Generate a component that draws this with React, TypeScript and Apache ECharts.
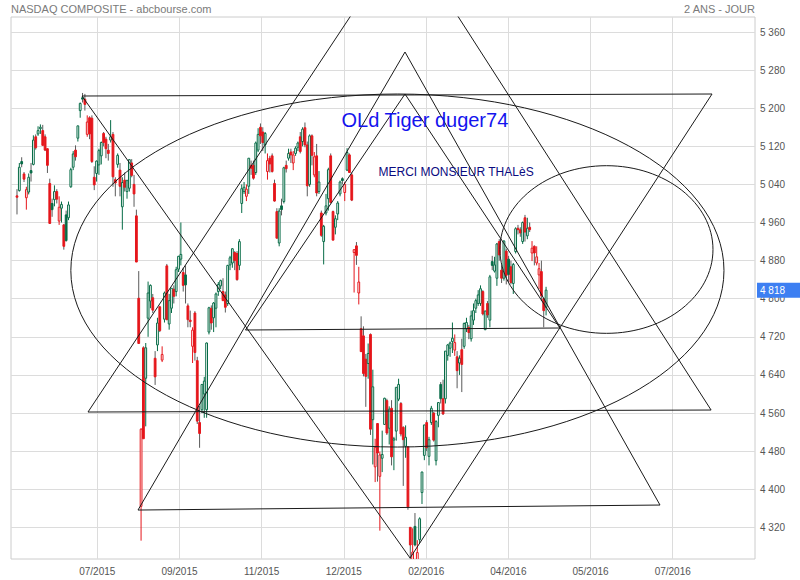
import React, { useEffect, useRef } from "react";
import * as echarts from "echarts";

// Trading days (NASDAQ Composite), index 0 = first candle
const tradingDays = [
  "2015-06-09","2015-06-10","2015-06-11","2015-06-12","2015-06-15","2015-06-16","2015-06-17","2015-06-18","2015-06-19","2015-06-22",
  "2015-06-23","2015-06-24","2015-06-25","2015-06-26","2015-06-29","2015-06-30","2015-07-01","2015-07-02","2015-07-06","2015-07-07",
  "2015-07-08","2015-07-09","2015-07-10","2015-07-13","2015-07-14","2015-07-15","2015-07-16","2015-07-17","2015-07-20","2015-07-21",
  "2015-07-22","2015-07-23","2015-07-24","2015-07-27","2015-07-28","2015-07-29","2015-07-30","2015-07-31","2015-08-03","2015-08-04",
  "2015-08-05","2015-08-06","2015-08-07","2015-08-10","2015-08-11","2015-08-12","2015-08-13","2015-08-14","2015-08-17","2015-08-18",
  "2015-08-19","2015-08-20","2015-08-21","2015-08-24","2015-08-25","2015-08-26","2015-08-27","2015-08-28","2015-08-31","2015-09-01",
  "2015-09-02","2015-09-03","2015-09-04","2015-09-08","2015-09-09","2015-09-10","2015-09-11","2015-09-14","2015-09-15","2015-09-16",
  "2015-09-17","2015-09-18","2015-09-21","2015-09-22","2015-09-23","2015-09-24","2015-09-25","2015-09-28","2015-09-29","2015-09-30",
  "2015-10-01","2015-10-02","2015-10-05","2015-10-06","2015-10-07","2015-10-08","2015-10-09","2015-10-12","2015-10-13","2015-10-14",
  "2015-10-15","2015-10-16","2015-10-19","2015-10-20","2015-10-21","2015-10-22","2015-10-23","2015-10-26","2015-10-27","2015-10-28",
  "2015-10-29","2015-10-30","2015-11-02","2015-11-03","2015-11-04","2015-11-05","2015-11-06","2015-11-09","2015-11-10","2015-11-11",
  "2015-11-12","2015-11-13","2015-11-16","2015-11-17","2015-11-18","2015-11-19","2015-11-20","2015-11-23","2015-11-24","2015-11-25",
  "2015-11-27","2015-11-30","2015-12-01","2015-12-02","2015-12-03","2015-12-04","2015-12-07","2015-12-08","2015-12-09","2015-12-10",
  "2015-12-11","2015-12-14","2015-12-15","2015-12-16","2015-12-17","2015-12-18","2015-12-21","2015-12-22","2015-12-23","2015-12-24",
  "2015-12-28","2015-12-29","2015-12-30","2015-12-31","2016-01-04","2016-01-05","2016-01-06","2016-01-07","2016-01-08","2016-01-11",
  "2016-01-12","2016-01-13","2016-01-14","2016-01-15","2016-01-19","2016-01-20","2016-01-21","2016-01-22","2016-01-25","2016-01-26",
  "2016-01-27","2016-01-28","2016-01-29","2016-02-01","2016-02-02","2016-02-03","2016-02-04","2016-02-05","2016-02-08","2016-02-09",
  "2016-02-10","2016-02-11","2016-02-12","2016-02-16","2016-02-17","2016-02-18","2016-02-19","2016-02-22","2016-02-23","2016-02-24",
  "2016-02-25","2016-02-26","2016-02-29","2016-03-01","2016-03-02","2016-03-03","2016-03-04","2016-03-07","2016-03-08","2016-03-09",
  "2016-03-10","2016-03-11","2016-03-14","2016-03-15","2016-03-16","2016-03-17","2016-03-18","2016-03-21","2016-03-22","2016-03-23",
  "2016-03-24","2016-03-28","2016-03-29","2016-03-30","2016-03-31","2016-04-01","2016-04-04","2016-04-05","2016-04-06","2016-04-07",
  "2016-04-08","2016-04-11","2016-04-12","2016-04-13","2016-04-14","2016-04-15","2016-04-18","2016-04-19","2016-04-20","2016-04-21",
  "2016-04-22","2016-04-25","2016-04-26","2016-04-27","2016-04-28","2016-04-29","2016-05-02",
];

const opens = [
  5016,5027,5088,5062,5012,5024,5069,5082,5140,5146,
  5157,5153,5140,5115,5042,5000,5008,5025,4963,4990,
  4955,4976,4970,5035,5076,5112,5137,5195,5222,5219,
  5145,5180,5179,5055,5063,5081,5100,5147,5135,5112,
  5133,5145,5050,5082,5070,4993,5049,5025,5032,5085,
  5040,4974,4801,4364,4697,4633,4759,4795,4802,4675,
  4703,4783,4671,4757,4869,4747,4780,4820,4815,4862,
  4883,4855,4850,4785,4755,4700,4770,4670,4540,4567,
  4600,4567,4730,4780,4760,4780,4815,4827,4815,4808,
  4790,4871,4875,4897,4895,4870,5000,5025,5015,5036,
  5080,5080,5065,5112,5160,5150,5123,5067,5095,5100,
  5042,4983,4917,4995,5004,5080,5095,5108,5085,5105,
  5118,5140,5130,5159,5123,5040,5142,5060,5100,5025,
  4980,4920,4980,5010,5100,4983,4950,4978,5020,5052,
  5023,5070,5102,5060,4897,4911,4812,4737,4722,4673,
  4664,4725,4546,4447,4538,4427,4465,4536,4586,4528,
  4570,4503,4522,4589,4580,4530,4490,4489,4320,4230,
  4322,4217,4294,4393,4471,4540,4469,4540,4560,4460,
  4555,4620,4590,4590,4681,4696,4710,4692,4678,4665,
  4693,4700,4737,4740,4716,4755,4780,4790,4790,4815,
  4735,4790,4755,4878,4858,4843,4920,4860,4843,4900,
  4883,4867,4832,4899,4948,4945,4920,4970,4932,4950,
  4896,4910,4875,4850,4857,4800,4782,
];

const highs = [
  5030,5085,5097,5066,5035,5063,5085,5143,5145,5162,
  5166,5165,5145,5116,5052,5010,5038,5030,5015,5004,
  4957,4985,5004,5075,5110,5122,5163,5212,5232,5230,
  5185,5183,5185,5078,5090,5115,5130,5150,5140,5125,
  5175,5150,5055,5105,5085,5055,5065,5050,5093,5093,
  5060,4987,4858,4528,4700,4707,4836,4830,4810,4690,
  4760,4785,4700,4815,4873,4810,4822,4828,4867,4890,
  4960,4865,4870,4790,4775,4740,4774,4678,4575,4621,
  4636,4708,4783,4786,4793,4813,4835,4840,4843,4815,
  4871,4890,4906,4900,4900,4925,5040,5045,5040,5095,
  5090,5090,5130,5158,5168,5160,5150,5105,5100,5105,
  5050,4990,4990,5010,5077,5090,5115,5115,5110,5120,
  5130,5150,5160,5170,5130,5145,5145,5108,5125,5068,
  4985,4955,5020,5075,5105,4985,4975,5005,5048,5055,
  5045,5116,5105,5065,4904,4919,4867,4763,4742,4684,
  4706,4727,4651,4506,4539,4479,4523,4592,4590,4574,
  4587,4510,4614,4632,4583,4532,4534,4490,4320,4318,
  4350,4293,4341,4437,4535,4545,4510,4575,4562,4545,
  4582,4625,4630,4690,4705,4710,4750,4725,4690,4681,
  4716,4750,4760,4745,4775,4790,4800,4818,4828,4818,
  4775,4795,4850,4890,4888,4917,4925,4870,4923,4905,
  4890,4880,4875,4950,4955,4950,4962,4976,4970,4960,
  4921,4912,4910,4875,4880,4802,4825,
];

const lows = [
  4977,5025,5076,5045,4987,5019,5046,5080,5113,5142,
  5146,5121,5110,5064,4957,4972,4994,5000,4955,4960,
  4903,4920,4965,5033,5070,5090,5130,5180,5212,5195,
  5140,5135,5085,5028,5046,5060,5082,5120,5095,5090,
  5128,5035,5015,5075,5015,4945,5025,5010,5025,5055,
  4993,4877,4706,4292,4506,4532,4720,4780,4770,4619,
  4690,4730,4667,4750,4755,4735,4770,4790,4805,4856,
  4870,4815,4790,4740,4740,4665,4670,4537,4487,4560,
  4550,4550,4725,4735,4730,4740,4806,4820,4795,4771,
  4785,4860,4865,4860,4838,4860,4980,5020,5005,5020,
  5060,5050,5060,5108,5125,5110,5105,5050,5065,5065,
  5004,4927,4910,4975,5000,5065,5090,5085,5070,5100,
  5110,5105,5120,5118,5015,5035,5080,5055,5015,5020,
  4930,4872,4975,4985,5000,4923,4935,4965,5015,5040,
  5005,5068,5064,5005,4813,4871,4788,4688,4637,4573,
  4632,4514,4452,4415,4416,4313,4436,4535,4514,4494,
  4450,4440,4502,4585,4511,4407,4466,4357,4213,4209,
  4280,4210,4287,4369,4461,4480,4450,4535,4500,4450,
  4530,4580,4556,4580,4670,4678,4686,4680,4612,4640,
  4604,4695,4730,4715,4710,4745,4770,4785,4785,4765,
  4734,4760,4740,4860,4855,4827,4880,4833,4838,4830,
  4835,4830,4810,4895,4935,4930,4915,4920,4925,4940,
  4879,4870,4870,4820,4795,4740,4765,
];

const closes = [
  5013,5076,5083,5051,5029,5055,5064,5133,5117,5153,
  5160,5122,5112,5080,4958,4987,5025,5009,4992,4998,
  4910,4922,4997,5071,5104,5098,5163,5210,5219,5208,
  5171,5146,5088,5039,5089,5111,5128,5128,5115,5105,
  5140,5056,5043,5101,5036,5044,5034,5048,5092,5059,
  5020,4877,4706,4526,4506,4697,4812,4828,4776,4636,
  4749,4733,4683,4812,4756,4796,4822,4805,4861,4889,
  4893,4828,4829,4756,4752,4734,4687,4543,4517,4620,
  4627,4707,4781,4749,4791,4810,4830,4838,4796,4782,
  4870,4886,4905,4880,4840,4920,5031,5034,5030,5095,
  5074,5053,5127,5145,5142,5128,5147,5090,5083,5067,
  5005,4927,4984,4987,5075,5073,5105,5102,5102,5116,
  5127,5109,5156,5123,5037,5142,5101,5098,5022,5045,
  4933,4952,4995,5071,5002,4923,4968,5001,5045,5048,
  5040,5107,5065,5007,4903,4891,4835,4689,4643,4637,
  4685,4526,4615,4488,4476,4472,4473,4591,4518,4568,
  4468,4506,4614,4620,4516,4504,4509,4363,4283,4268,
  4283,4267,4338,4436,4535,4487,4504,4570,4503,4542,
  4582,4590,4558,4690,4703,4707,4717,4708,4649,4675,
  4662,4748,4750,4729,4764,4775,4796,4808,4821,4768,
  4774,4766,4846,4870,4871,4915,4892,4843,4921,4849,
  4851,4834,4872,4947,4945,4938,4960,4940,4948,4945,
  4906,4896,4888,4863,4806,4775,4818,
];

// Axes (x in trading-day index units)
const xRange = [-2.56, 315.25];
const yRange = [4253.5, 5391.5];
const priceTicks = [4320, 4400, 4480, 4560, 4640, 4720, 4800, 4880, 4960, 5040, 5120, 5200, 5280, 5360];
const timeTickPos = [34.3, 69.4, 104.5, 139.6, 174.8, 209.9, 245.0, 280.1];
const timeTickLabels = ["07/2015", "09/2015", "11/2015", "12/2015", "02/2016", "04/2016", "05/2016", "07/2016"];

// Hand-drawn figures, as [trading-day index, price]
const bigTriangleDown = [[27.77, 5225.6], [296.9, 5229.8], [167.9, 4255.6], [27.77, 5225.6]];
const triangleUp = [[51.69, 4356.3], [165.74, 5318.0], [274.67, 4366.8], [51.69, 4356.3]];
const lowTriangleDown = [[30.33, 4562.1], [296.5, 4566.3], [165.74, 5565.8], [30.33, 4562.1]];
const innerTriangle = [[97.6, 4734.3], [165.74, 5229.8], [231.9, 4738.5], [97.6, 4734.3]];
const bigEllipse = { cx: 162.5, cy: 4859.2, rx: 139.5, ry: 370.6 };
const smallEllipse = { cx: 251.8, cy: 4903.3, rx: 45.5, ry: 176.0 };

const FONT = "'Liberation Sans', Arial, Helvetica, sans-serif";
const GREEN = "#066b46";
const RED = "#e5161b";
const WICK = "#5a5a5a";
const DRAW = "#1a1a1a";

const fmtPrice = (v: number) => String(Math.round(v)).replace(/\B(?=(\d{3})+(?!\d))/g, " ");

export default function App() {
  const ref = useRef<HTMLDivElement>(null);

  useEffect(() => {
    if (!ref.current) return;
    const chart = echarts.init(ref.current, null, { renderer: "svg", width: 800, height: 580 });

    const candleData = opens.map((o, i) => [i, o, closes[i], lows[i], highs[i], i > 0 ? closes[i - 1] : o]);

    const figureSeries = [bigTriangleDown, triangleUp, lowTriangleDown, innerTriangle].map((pts) => ({
      type: "line",
      data: pts,
      symbol: "none",
      silent: true,
      clip: true,
      z: 5,
      lineStyle: { color: DRAW, width: 1 },
    }));

    const option: any = {
      animation: false,
      textStyle: { fontFamily: FONT },
      grid: {
        left: 11, right: 45, top: 17, bottom: 21,
        show: true, borderColor: "#cccccc", borderWidth: 1,
        containLabel: false, outerBoundsMode: "none",
      },
      xAxis: {
        type: "value",
        min: xRange[0], max: xRange[1],
        axisLine: { show: false },
        axisTick: { show: false, customValues: timeTickPos },
        axisLabel: {
          customValues: timeTickPos,
          color: "#555", fontSize: 10, margin: 7, fontFamily: FONT,
          formatter: (v: number) => {
            let best = 0;
            timeTickPos.forEach((p, k) => { if (Math.abs(p - v) < Math.abs(timeTickPos[best] - v)) best = k; });
            return timeTickLabels[best];
          },
        },
        splitLine: { show: true, lineStyle: { color: "#dcdcdc", width: 1 } },
      },
      yAxis: {
        type: "value",
        position: "right",
        min: yRange[0], max: yRange[1],
        axisLine: { show: false },
        axisTick: { show: false, customValues: priceTicks },
        axisLabel: {
          customValues: priceTicks,
          color: "#555", fontSize: 10, margin: 5, fontFamily: FONT,
          formatter: (v: number) => fmtPrice(v),
        },
        splitLine: { show: true, lineStyle: { color: "#dcdcdc", width: 1 } },
      },
      series: [
        {
          type: "custom",
          data: candleData,
          clip: true,
          silent: true,
          z: 2,
          encode: { x: 0, y: [1, 2, 3, 4] },
          renderItem: (params: any, api: any) => {
            const i = api.value(0);
            const o = api.value(1);
            const c = api.value(2);
            const l = api.value(3);
            const h = api.value(4);
            const prev = api.value(5);
            const rising = c > prev;
            const hollow = c > o;
            const col = rising ? GREEN : RED;
            const wick = hollow ? col : WICK;
            const pO = api.coord([i, o]);
            const pC = api.coord([i, c]);
            const pL = api.coord([i, l]);
            const pH = api.coord([i, h]);
            const w = api.size([1, 0])[0] * 0.76;
            const top = Math.min(pO[1], pC[1]);
            const bot = Math.max(pO[1], pC[1]);
            const x = pO[0];
            return {
              type: "group",
              children: [
                { type: "line", shape: { x1: x, y1: pH[1], x2: x, y2: top }, style: { stroke: wick, lineWidth: 1 } },
                { type: "line", shape: { x1: x, y1: bot, x2: x, y2: pL[1] }, style: { stroke: wick, lineWidth: 1 } },
                {
                  type: "rect",
                  shape: { x: x - w / 2, y: top, width: w, height: Math.max(bot - top, 1) },
                  style: { fill: hollow ? "#ffffff" : col, stroke: col, lineWidth: 1 },
                },
              ],
            };
          },
        },
        ...figureSeries,
      ],
    };

    chart.setOption(option);

    const toPx = (p: number[]) => chart.convertToPixel({ gridIndex: 0 }, p) as number[];
    const ell = (e: { cx: number; cy: number; rx: number; ry: number }) => {
      const c = toPx([e.cx, e.cy]);
      const r = toPx([e.cx + e.rx, e.cy + e.ry]);
      return {
        type: "ellipse",
        silent: true,
        z: 50,
        shape: { cx: c[0], cy: c[1], rx: Math.abs(r[0] - c[0]), ry: Math.abs(r[1] - c[1]) },
        style: { fill: "none", stroke: DRAW, lineWidth: 1 },
      };
    };
    const last = closes[closes.length - 1];
    const tag = toPx([xRange[1], last]);

    chart.setOption({
      graphic: {
        elements: [
          ell(bigEllipse),
          ell(smallEllipse),
          {
            type: "text", x: 11, y: 9, z: 60, silent: true,
            style: { text: "NASDAQ COMPOSITE - abcbourse.com", fill: "#7a7a7a", fontSize: 11, fontFamily: FONT, verticalAlign: "middle" },
          },
          {
            type: "text", x: 755, y: 9, z: 60, silent: true,
            style: { text: "2 ANS - JOUR", fill: "#7a7a7a", fontSize: 11, fontFamily: FONT, align: "right", verticalAlign: "middle" },
          },
          {
            type: "text", x: 341.5, y: 120, z: 60, silent: true,
            style: { text: "OLd Tiger duger74", fill: "#1414ee", fontSize: 20, fontFamily: FONT, verticalAlign: "middle" },
          },
          {
            type: "text", x: 378.5, y: 172, z: 60, silent: true,
            style: { text: "MERCI MONSIEUR THALèS", fill: "#0b0b80", fontSize: 12, fontFamily: FONT, verticalAlign: "middle" },
          },
          {
            type: "rect", z: 70, silent: true,
            shape: { x: tag[0] + 2, y: tag[1] - 7.5, width: 800 - tag[0] - 2, height: 15 },
            style: { fill: "#3d7ff2" },
          },
          {
            type: "text", x: tag[0] + 5, y: tag[1], z: 71, silent: true,
            style: { text: fmtPrice(last), fill: "#ffffff", fontSize: 10, fontFamily: FONT, verticalAlign: "middle" },
          },
        ],
      },
    });

    return () => chart.dispose();
  }, []);

  return (
    <div
      ref={ref}
      style={{ position: "fixed", left: 0, top: 0, width: 800, height: 580, background: "#ffffff" }}
    />
  );
}
